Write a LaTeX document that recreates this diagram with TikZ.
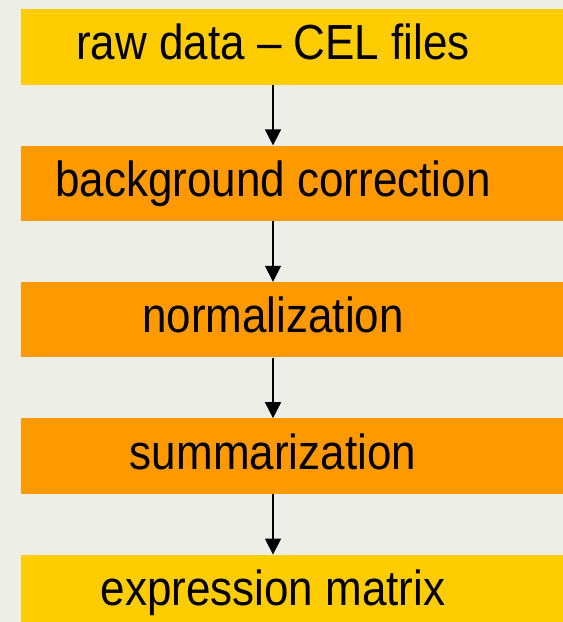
\documentclass[tikz,border=0pt]{standalone}
\usepackage{fontspec}
\setmainfont{Liberation Sans}
\usepackage{tikz}
\usetikzlibrary{arrows.meta,positioning}
\definecolor{paper}{RGB}{238,238,232}
\definecolor{gold}{RGB}{255,204,0}
\definecolor{amber}{RGB}{255,153,0}
\newcommand{\tall}[1]{\scalebox{1}[1.12]{#1}}

\begin{document}
\begin{tikzpicture}[
      x=1pt, y=1pt,
      node distance=60.5pt,
      stage/.style={rectangle, draw=none, minimum width=580pt,
                    minimum height=75.5pt, inner sep=0pt},
      txt/.style={font=\fontsize{44}{50}\selectfont, inner sep=0pt,
                  anchor=base, yshift=-13pt},
      arr/.style={-{Triangle[length=16pt, width=16pt]}, line width=1.5pt}]
    \fill[paper] (0,0) rectangle (563,622);
    \clip (0,0) rectangle (563,622);
    \coordinate (axis) at (273,0);
    % stage boxes
    \node[stage, fill=gold, anchor=north west] (rawbox) at (20.5,613) {};
    \node[stage, fill=amber, below=of rawbox] (bgbox) {};
    \node[stage, fill=amber, below=of bgbox] (normbox) {};
    \node[stage, fill=amber, below=of normbox] (sumbox) {};
    \node[stage, fill=gold, below=of sumbox] (exprbox) {};
    % labels
    \node[txt] (raw) at (axis |- rawbox) {\tall{raw data – CEL files}};
    \node[txt] (bg) at (axis |- bgbox) {\tall{background correction}};
    \node[txt] (norm) at (axis |- normbox) {\tall{normalization}};
    \node[txt] (sum) at (axis |- sumbox) {\tall{summarization}};
    \node[txt] (expr) at (axis |- exprbox) {\tall{expression matrix}};
    % arrows
    \draw[arr] (rawbox.south -| axis) -- (bgbox.north -| axis);
    \draw[arr] (bgbox.south -| axis) -- (normbox.north -| axis);
    \draw[arr] (normbox.south -| axis) -- (sumbox.north -| axis);
    \draw[arr] (sumbox.south -| axis) -- (exprbox.north -| axis);
  \end{tikzpicture}
\end{document}
